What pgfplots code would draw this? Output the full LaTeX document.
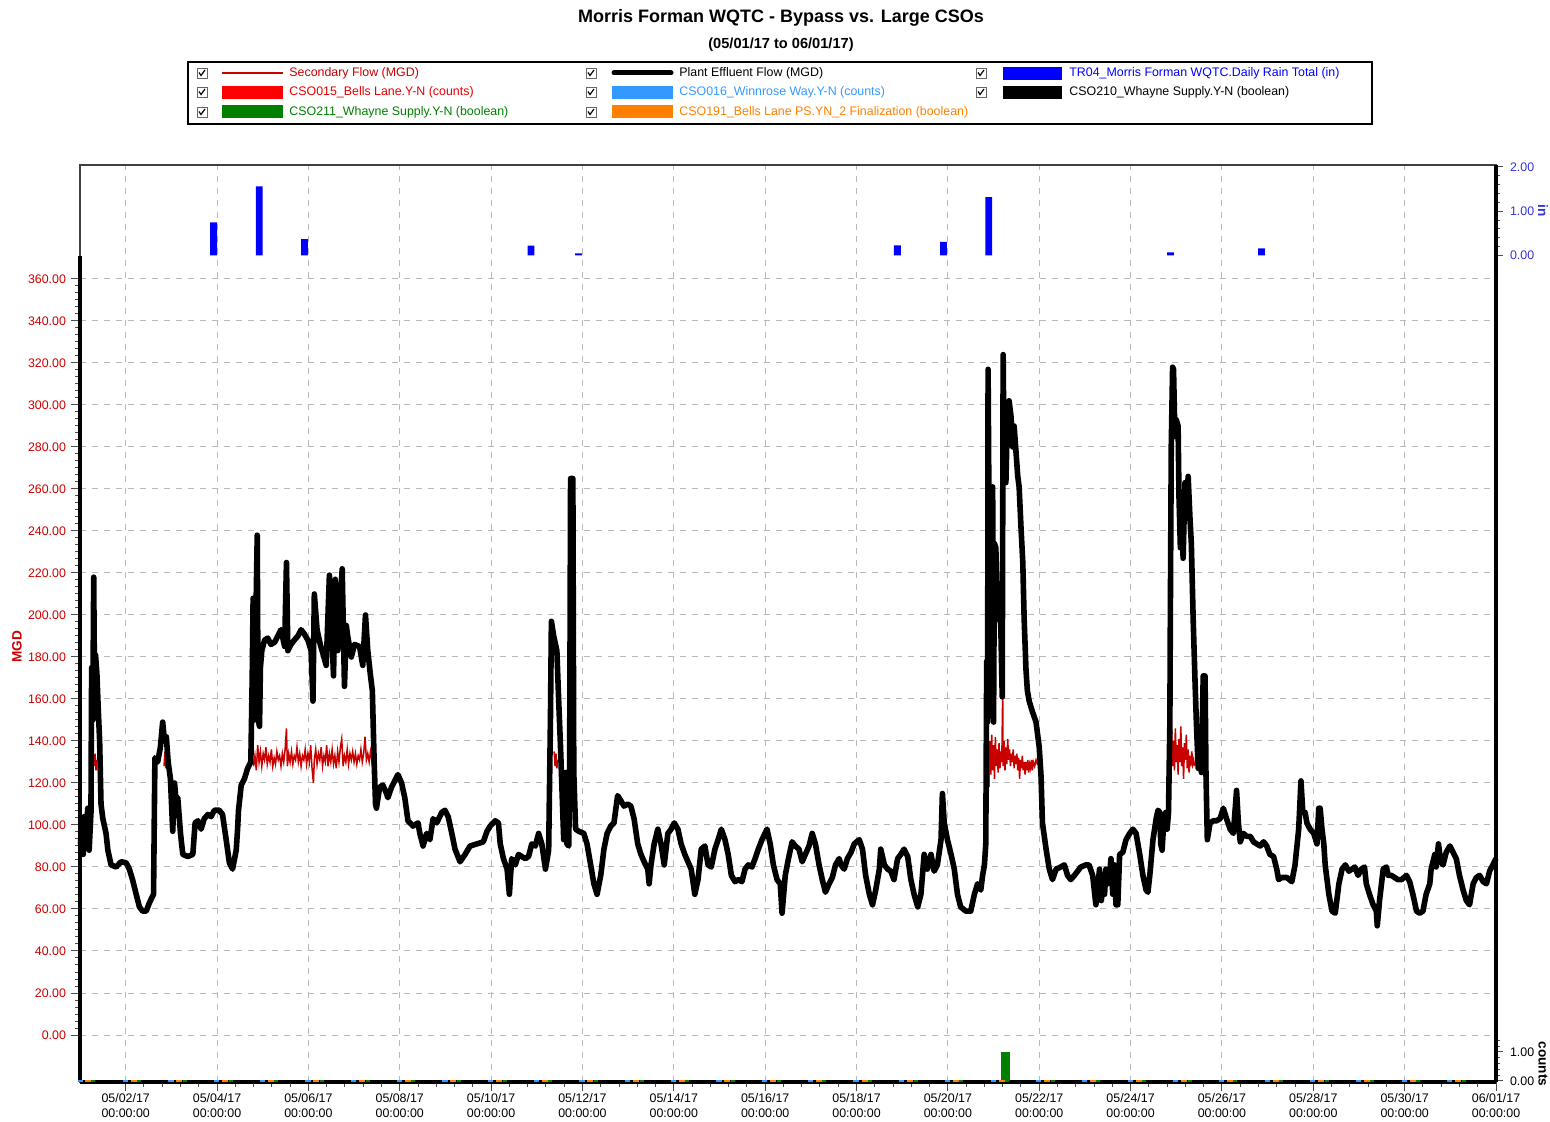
\documentclass[border=0pt]{standalone}
\usepackage{fontspec}
\setmainfont{Liberation Sans}
\usepackage{pgfplots}
\pgfplotsset{compat=1.18}
\definecolor{secred}{RGB}{200,0,0}
\definecolor{lblred}{RGB}{204,0,0}
\definecolor{csored}{RGB}{255,0,0}
\definecolor{csogreen}{RGB}{0,128,0}
\definecolor{csoblue}{RGB}{51,153,255}
\definecolor{csoorange}{RGB}{255,128,0}
\definecolor{rainblue}{RGB}{0,0,255}
\definecolor{lblblue}{RGB}{51,51,221}
\definecolor{gridgray}{RGB}{185,185,185}
\newcommand{\tf}{\fontsize{6.2}{7.5}\selectfont}
\newcommand{\chk}[2]{%
  \draw[black!60, line width=0.4pt] (#1-5,#2-5) rectangle (#1+5,#2+5);
  \draw[black, line width=0.6pt] (#1-3,#2-0.5) -- (#1-1,#2+2.5) -- (#1+3,#2-3);}
\begin{document}
\begin{tikzpicture}
\useasboundingbox (0,0) rectangle (775pt,561pt);

% ---------------- main axis (MGD)
\begin{axis}[
  at={(40pt,20pt)}, anchor=south west,
  width=708pt, height=458.5pt, scale only axis,
  xmin=0, xmax=31, ymin=-22.38, ymax=414.29,
  clip=false,
  axis line style={draw=black!75, line width=0.6pt},
  tick pos=left, tick align=outside,
  xtick={1,3,...,31},
  xticklabels={{05/02/17\\00:00:00},{05/04/17\\00:00:00},{05/06/17\\00:00:00},{05/08/17\\00:00:00},{05/10/17\\00:00:00},{05/12/17\\00:00:00},{05/14/17\\00:00:00},{05/16/17\\00:00:00},{05/18/17\\00:00:00},{05/20/17\\00:00:00},{05/22/17\\00:00:00},{05/24/17\\00:00:00},{05/26/17\\00:00:00},{05/28/17\\00:00:00},{05/30/17\\00:00:00},{06/01/17\\00:00:00}},
  xticklabel style={align=center, font=\tf, text=black, yshift=2.5pt},
  minor x tick num=4,
  ytick={0,20,...,360},
  minor y tick num=5,
  yticklabel={\pgfmathprintnumber[fixed,fixed zerofill,precision=2,assume math mode=true]{\tick}},
  yticklabel style={font=\tf, text=lblred, xshift=1pt},
  major tick length=4.5pt, minor tick length=2.5pt,
  every tick/.style={black!70, line width=0.5pt},
  xmajorgrids, ymajorgrids,
  grid style={dashed, gridgray, line width=0.5pt},
]
% Secondary Flow (visible parts)
\addplot[secred, line width=0.75pt] coordinates {
(0.31,128) (0.33,134) (0.35,126) (0.37,131)};
\addplot[secred, line width=0.75pt] coordinates {
(1.84,128) (1.86,135) (1.88,127) (1.90,132)};
\addplot[secred, line width=0.75pt] coordinates {
(3.80,128) (3.83,133) (3.86,126) (3.89,138) (3.92,130) (3.95,135) (3.98,128) (4.01,134) (4.04,131) (4.07,137)
(4.10,129) (4.13,133) (4.16,130) (4.19,136) (4.22,128) (4.25,132) (4.28,129) (4.31,135) (4.34,131) (4.37,133)
(4.40,128) (4.43,134) (4.46,130) (4.49,136) (4.52,146) (4.54,128) (4.57,134) (4.60,130) (4.63,135) (4.66,129)
(4.69,133) (4.72,131) (4.75,137) (4.78,130) (4.81,134) (4.84,128) (4.87,133) (4.90,131) (4.93,136) (4.96,129)
(4.99,134) (5.02,130) (5.05,138) (5.08,127) (5.11,120) (5.13,131) (5.16,136) (5.19,129) (5.22,134) (5.25,131)
(5.28,137) (5.31,128) (5.34,133) (5.37,130) (5.40,138) (5.43,128) (5.46,134) (5.49,130) (5.52,136) (5.55,129)
(5.58,133) (5.61,127) (5.64,135) (5.67,130) (5.70,137) (5.73,141) (5.76,128) (5.79,133) (5.82,130) (5.85,136)
(5.88,129) (5.91,134) (5.94,131) (5.97,135) (6.00,130) (6.03,134) (6.06,129) (6.09,133) (6.12,131) (6.15,136)
(6.18,130) (6.21,134) (6.24,142) (6.27,131) (6.30,134) (6.33,130) (6.36,135) (6.39,131) (6.42,125)};
\addplot[secred, line width=0.75pt] coordinates {
(10.38,135) (10.40,128) (10.42,134) (10.44,127) (10.46,131)};
\addplot[secred, line width=0.75pt] coordinates {
(19.90,118) (19.92,140) (19.94,124) (19.96,143) (19.98,126) (20.00,138) (20.02,122) (20.04,142) (20.06,128) (20.08,136)
(20.10,125) (20.12,139) (20.14,127) (20.16,135) (20.18,130) (20.20,163) (20.21,128) (20.23,140) (20.25,126) (20.27,137)
(20.29,129) (20.31,141) (20.33,131) (20.35,136) (20.37,128) (20.39,134) (20.41,130) (20.43,136) (20.45,127) (20.47,133)
(20.49,129) (20.51,134) (20.53,126) (20.55,132) (20.57,122) (20.59,131) (20.61,127) (20.63,133) (20.65,126) (20.67,130)
(20.69,124) (20.71,130) (20.73,126) (20.75,131) (20.77,125) (20.79,129) (20.81,127) (20.83,131) (20.85,126) (20.87,130)
(20.90,128) (20.93,131) (20.96,129) (21.00,130)};
\addplot[secred, line width=0.75pt] coordinates {
(23.88,130) (23.90,145) (23.92,128) (23.94,140) (23.96,126) (23.98,146) (24.00,130) (24.02,138) (24.04,124) (24.06,141)
(24.08,130) (24.10,147) (24.12,128) (24.14,137) (24.16,122) (24.18,139) (24.20,131) (24.22,143) (24.24,127) (24.26,136)
(24.28,125) (24.30,133) (24.32,128) (24.34,135) (24.36,129) (24.38,131) (24.40,128)};
% Plant Effluent Flow
\addplot[black, line width=2.8pt, line join=round] table {
0.01 91
0.04 100
0.07 86
0.095 104
0.13 95
0.17 108
0.20 88
0.24 106
0.255 175
0.28 150
0.30 218
0.32 160
0.34 181
0.37 172
0.40 155
0.43 140
0.46 110
0.50 103
0.57 96
0.61 88
0.68 81
0.79 80
0.90 82.5
1.01 82
1.08 79
1.15 74
1.23 67
1.30 61
1.37 59
1.45 59
1.52 63
1.61 67
1.64 132
1.70 130
1.76 137
1.81 149
1.85 140
1.89 142
1.93 130
1.98 122
2.03 97
2.07 120
2.10 112
2.14 113
2.20 96
2.25 86
2.36 85
2.47 86
2.52 101
2.58 102
2.65 98
2.72 103
2.80 105
2.87 104
2.94 107
3.05 107
3.12 105
3.20 93
3.27 82
3.34 79
3.42 88
3.45 98
3.47 107
3.53 119
3.60 122
3.67 127
3.74 130
3.77 170
3.79 208
3.81 150
3.83 190
3.85 198
3.88 238
3.90 150
3.93 147
3.95 175
3.98 183
4.04 188
4.11 189
4.18 186
4.26 187
4.33 190
4.40 193
4.48 185
4.52 225
4.55 183
4.62 186
4.69 188
4.77 190
4.84 193
4.91 191
4.99 188
5.06 183
5.10 159
5.13 210
5.19 193
5.26 186
5.34 180
5.39 176
5.46 219
5.50 200
5.55 171
5.59 217
5.64 183
5.68 198
5.74 222
5.79 166
5.83 195
5.86 190
5.94 180
6.01 186
6.12 185
6.19 176
6.25 200
6.30 183
6.36 171
6.40 164
6.44 130
6.47 110
6.49 108
6.56 118
6.63 119
6.71 115
6.74 113
6.82 118
6.89 121
6.96 124
7.04 120
7.11 113
7.18 102
7.29 99.5
7.40 101
7.44 96
7.51 90
7.59 96
7.66 93
7.73 103
7.81 101
7.92 106
7.99 107
8.06 104
8.14 96
8.21 88.5
8.32 82.5
8.43 86
8.54 90
8.69 91
8.83 92
8.91 97
8.98 99.5
9.09 102
9.16 101
9.20 91
9.27 84
9.35 79
9.40 67
9.45 84
9.53 81
9.60 86
9.67 85
9.75 84
9.82 85
9.89 91
9.97 90
10.04 96
10.11 91
10.19 79
10.26 88
10.30 152
10.32 197
10.37 190
10.44 183
10.48 159
10.52 137
10.55 118
10.59 93
10.63 125
10.66 91
10.70 90
10.72 132
10.74 265
10.79 265
10.81 125
10.85 98
10.92 97
11.03 96
11.10 91
11.18 81
11.25 72
11.32 67
11.40 76
11.47 88.5
11.54 96
11.62 99.5
11.69 101
11.77 114
11.84 111.6
11.91 109
11.99 110
12.06 109
12.13 103
12.21 91
12.28 86
12.35 82.5
12.43 79
12.46 72
12.50 81
12.57 91
12.65 98
12.72 91
12.79 81
12.87 96
12.94 98
13.01 101
13.09 98
13.16 91
13.24 86
13.31 82.5
13.38 79
13.46 67
13.53 74
13.60 88.5
13.68 90
13.75 81
13.82 80
13.90 88.5
13.97 93
14.04 98
14.12 93
14.19 86
14.26 76
14.34 73
14.41 74
14.49 73
14.56 79
14.63 81
14.71 80
14.78 84
14.85 88.5
14.93 93
15.04 98
15.11 91
15.18 81
15.26 74
15.33 72
15.37 58
15.44 76
15.51 84
15.59 92
15.66 90
15.74 88.5
15.81 82.5
15.88 86
15.96 90
16.03 96
16.10 91
16.18 81
16.25 74
16.32 68
16.40 72
16.47 75
16.54 81
16.62 84
16.66 81
16.73 79
16.80 84
16.88 87
16.95 91
17.06 93
17.13 88.5
17.20 76
17.28 67
17.35 62
17.42 69
17.50 79
17.53 88.5
17.61 81
17.68 79
17.75 78
17.82 74
17.90 84
17.97 86
18.04 88.5
18.12 85
18.19 74
18.26 67
18.34 61
18.41 67
18.48 86
18.55 79
18.63 86
18.70 78
18.77 81
18.85 93
18.88 115
18.92 101
18.99 93
19.07 86
19.14 79
19.21 67
19.28 61
19.39 59
19.50 59
19.58 67
19.65 72
19.72 69
19.76 76
19.80 81
19.83 91
19.85 178
19.87 149
19.88 317
19.90 250
19.92 210
19.96 193
19.98 261
20.00 149
20.02 234
20.05 232
20.09 198
20.12 210
20.16 193
20.19 161
20.21 324
20.23 271
20.27 263
20.31 300
20.34 302
20.38 295
20.42 280
20.45 290
20.49 278
20.53 266
20.56 261
20.60 242
20.64 225
20.67 198
20.71 174
20.74 164
20.78 159
20.85 154
20.93 149
21.00 137
21.04 123
21.07 101
21.15 88.5
21.22 79
21.29 74
21.37 79
21.47 80
21.55 81
21.62 76
21.69 74
21.77 76
21.84 78
21.91 80
22.02 81
22.09 81
22.17 76
22.24 62
22.28 70
22.32 79
22.36 64
22.39 76
22.43 67
22.46 79
22.50 72
22.54 76
22.57 84
22.61 67
22.65 81
22.68 62
22.72 62
22.76 86
22.83 87
22.90 93
22.98 96
23.05 98
23.12 96
23.20 86
23.27 76
23.34 69
23.38 68
23.42 76
23.49 93
23.56 103
23.60 107
23.64 106
23.66 91
23.69 88
23.73 103
23.77 106
23.80 98
23.83 106
23.86 149
23.87 198
23.89 280
23.92 318
23.94 317
23.97 285
24.00 293
24.04 290
24.06 256
24.09 232
24.12 246
24.15 227
24.19 263
24.22 246
24.26 266
24.30 246
24.33 234
24.37 198
24.41 169
24.44 149
24.48 127
24.52 137
24.55 125
24.59 171
24.63 171
24.65 125
24.68 93
24.74 101
24.81 102
24.88 102
24.96 103
25.03 108
25.10 103
25.18 98
25.25 96
25.32 116.5
25.36 101
25.40 92
25.47 96
25.54 94.6
25.62 94.6
25.69 92
25.76 91
25.84 90
25.91 92
25.98 90
26.05 86
26.13 85
26.20 79
26.24 74
26.31 75
26.42 75
26.53 73
26.60 81
26.68 98
26.73 121
26.77 106
26.82 106
26.86 101
26.93 98
27.01 96
27.08 91
27.12 108
27.15 108
27.19 98
27.23 91
27.26 81
27.34 67
27.41 59
27.48 58
27.56 72
27.63 79
27.70 81
27.78 78
27.91 80
27.98 76
28.05 79
28.12 80
28.16 72
28.23 67
28.31 62
28.38 59
28.40 52
28.45 64
28.53 79
28.60 80
28.64 76
28.71 76
28.78 75
28.85 74
28.93 74
29.04 76
29.11 73
29.18 67
29.26 59
29.33 58
29.40 59
29.47 67
29.55 72
29.58 79
29.66 86
29.69 80
29.74 91
29.79 82.5
29.84 81
29.91 87
29.99 90
30.06 87
30.13 84
30.20 76
30.28 69
30.35 64
30.42 62
30.50 72
30.57 75
30.64 76
30.72 73
30.79 72
30.86 78
30.93 81
31.00 84
};
\draw[black, line width=1.6pt] (axis cs:0,-22.38) -- (axis cs:0,371);
\draw[black, line width=1.6pt] (rel axis cs:0,0) -- (rel axis cs:1,0);
\end{axis}

% ---------------- rain axis (in)
\begin{axis}[
  at={(40pt,20pt)}, anchor=south west,
  width=708pt, height=458.5pt, scale only axis,
  xmin=0, xmax=31, ymin=-18.68, ymax=2.045,
  axis x line=none, axis y line*=right,
  y axis line style={-, black, line width=1.6pt},
  tick align=outside,
  ytick={0,1,2}, minor ytick={0.2,0.4,0.6,0.8,1.2,1.4,1.6,1.8},
  yticklabel={\pgfmathprintnumber[fixed,fixed zerofill,precision=2,assume math mode=true]{\tick}},
  yticklabel style={font=\tf, text=lblblue},
  major tick length=3.5pt, minor tick length=2.2pt,
  every tick/.style={black!70, line width=0.5pt},
]
\addplot[ybar, bar width=0.15, bar shift=0pt, fill=rainblue, draw=none] coordinates {
(2.925,0.75) (3.925,1.56) (4.915,0.37) (9.875,0.22) (10.915,0.05)
(17.895,0.23) (18.905,0.31) (19.895,1.32) (23.875,0.07) (25.865,0.16)};
\end{axis}

% ---------------- counts axis
\begin{axis}[
  at={(40pt,20pt)}, anchor=south west,
  width=708pt, height=458.5pt, scale only axis,
  xmin=0, xmax=31, ymin=-0.0345, ymax=31.59,
  axis x line=none, axis y line*=right,
  y axis line style={-, black, line width=1.6pt},
  tick align=outside, clip=false,
  ytick={0,1}, minor ytick={0.2,0.4,0.6,0.8,1.2,1.4},
  yticklabel={\pgfmathprintnumber[fixed,fixed zerofill,precision=2,assume math mode=true]{\tick}},
  yticklabel style={font=\tf, text=black},
  major tick length=3.5pt, minor tick length=2.2pt,
  every tick/.style={black!70, line width=0.5pt},
]
\addplot[ybar, bar width=0.19, bar shift=0pt, fill=csogreen, draw=none] coordinates {(20.265,1)};
\addplot[only marks, mark=-, mark size=1.3pt, mark options={csoblue, line width=1pt}] coordinates {
(0.01,0) (0.99,0) (1.99,0) (2.99,0) (3.99,0) (4.99,0) (5.99,0) (6.99,0) (7.99,0) (8.99,0)
(9.99,0) (10.99,0) (11.99,0) (12.99,0) (13.99,0) (14.99,0) (15.99,0) (16.99,0) (17.99,0) (18.99,0)
(19.99,0) (20.99,0) (21.99,0) (22.99,0) (23.99,0) (24.99,0) (25.99,0) (26.99,0) (27.99,0) (28.99,0) (29.99,0)};
\addplot[only marks, mark=-, mark size=1.5pt, mark options={csoorange, line width=1pt}] coordinates {
(0.175,0) (1.175,0) (2.175,0) (3.175,0) (4.175,0) (5.175,0) (6.175,0) (7.175,0) (8.175,0) (9.175,0)
(10.175,0) (11.175,0) (12.175,0) (13.175,0) (14.175,0) (15.175,0) (16.175,0) (17.175,0) (18.175,0) (19.175,0)
(20.175,0) (21.175,0) (22.175,0) (23.175,0) (24.175,0) (25.175,0) (26.175,0) (27.175,0) (28.175,0) (29.175,0) (30.175,0)};
\addplot[only marks, mark=-, mark size=1.0pt, mark options={csogreen, line width=1pt}] coordinates {
(0.295,0) (1.295,0) (2.295,0) (3.295,0) (4.295,0) (5.295,0) (6.295,0) (7.295,0) (8.295,0) (9.295,0)
(10.295,0) (11.295,0) (12.295,0) (13.295,0) (14.295,0) (15.295,0) (16.295,0) (17.295,0) (18.295,0) (19.295,0)
(20.295,0) (21.295,0) (22.295,0) (23.295,0) (24.295,0) (25.295,0) (26.295,0) (27.295,0) (28.295,0) (29.295,0) (30.295,0)};
\draw[black, line width=1.6pt] (rel axis cs:1,0) -- (rel axis cs:1,1);
\end{axis}

% ---------------- titles, legend, axis titles (pixel coordinates)
\begin{scope}[x=0.5pt, y=-0.5pt, shift={(0,561pt)}]
\node[font=\bfseries\fontsize{9}{10}\selectfont] at (781,18) {Morris Forman WQTC - Bypass vs. Large CSOs};
\node[font=\bfseries\fontsize{7.3}{8}\selectfont] at (781,45) {(05/01/17 to 06/01/17)};
\draw[black, line width=1pt] (188,62) rectangle (1372,124);
\chk{202}{73}\chk{202}{92}\chk{202}{112}
\chk{591}{73}\chk{591}{92}\chk{591}{112}
\chk{981}{73}\chk{981}{92}
\draw[secred, line width=1pt] (222,73) -- (283,73);
\fill[csored] (222,86) rectangle (283,99);
\fill[csogreen] (222,105) rectangle (283,118);
\draw[black, line width=2.5pt, line cap=round] (614,73) -- (671,73);
\fill[csoblue] (612,86) rectangle (673,99);
\fill[csoorange] (612,105) rectangle (673,118);
\fill[rainblue] (1003,67) rectangle (1062,80);
\fill[black] (1003,86) rectangle (1062,99);
\node[anchor=west, inner sep=0, font=\tf, text=secred] at (289,73) {Secondary Flow (MGD)};
\node[anchor=west, inner sep=0, font=\tf, text=csored!90!black] at (289,92) {CSO015\_Bells Lane.Y-N (counts)};
\node[anchor=west, inner sep=0, font=\tf, text=csogreen] at (289,112) {CSO211\_Whayne Supply.Y-N (boolean)};
\node[anchor=west, inner sep=0, font=\tf, text=black] at (679,73) {Plant Effluent Flow (MGD)};
\node[anchor=west, inner sep=0, font=\tf, text=csoblue] at (679,92) {CSO016\_Winnrose Way.Y-N (counts)};
\node[anchor=west, inner sep=0, font=\tf, text=csoorange] at (679,112) {CSO191\_Bells Lane PS.YN\_2 Finalization (boolean)};
\node[anchor=west, inner sep=0, font=\tf, text=rainblue] at (1069,73) {TR04\_Morris Forman WQTC.Daily Rain Total (in)};
\node[anchor=west, inner sep=0, font=\tf, text=black] at (1069,92) {CSO210\_Whayne Supply.Y-N (boolean)};
\node[rotate=90, font=\bfseries\fontsize{6.8}{8}\selectfont, text=lblred] at (17,647) {MGD};
\node[rotate=-90, font=\bfseries\fontsize{6.8}{8}\selectfont, text=lblblue] at (1543,211) {in};
\node[rotate=-90, font=\bfseries\fontsize{6.8}{8}\selectfont, text=black] at (1543,1064) {counts};
\end{scope}
\end{tikzpicture}
\end{document}
